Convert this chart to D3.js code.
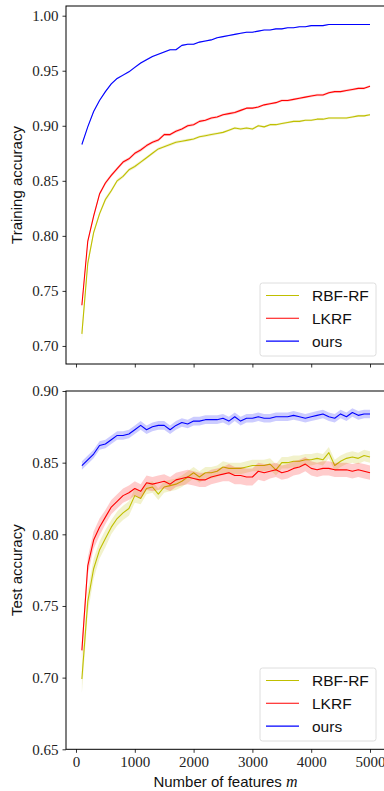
<!DOCTYPE html>
<html>
<head>
<meta charset="utf-8">
<script src="https://cdn.jsdelivr.net/npm/d3@7"></script>
<style>
  html, body { margin: 0; padding: 0; background: #fff; }
  svg { display: block; }
  .tick text { font-family: "Liberation Serif", "DejaVu Serif", serif; font-size: 15px; fill: #222; }
  .axis-label { font-family: "Liberation Sans", Arial, sans-serif; font-size: 15px; fill: #111; }
  .legend text { font-family: "Liberation Sans", Arial, sans-serif; font-size: 15.5px; fill: #111; }
</style>
</head>
<body>
<div id="chart"></div>
<script>
// ---- Data (number of features m = 100 .. 5000, step 100)
const features = [100,200,300,400,500,600,700,800,900,1000,1100,1200,1300,1400,1500,1600,1700,1800,1900,2000,
  2100,2200,2300,2400,2500,2600,2700,2800,2900,3000,3100,3200,3300,3400,3500,3600,3700,3800,3900,4000,
  4100,4200,4300,4400,4500,4600,4700,4800,4900,5000];

const seriesNames = ['RBF-RF', 'LKRF', 'ours'];

// Training accuracy (means)
const trainRbf = [0.711,0.775,0.803,0.820,0.833,0.841,0.850,0.854,0.860,0.863,0.867,0.871,0.875,0.879,0.881,0.883,0.885,0.886,0.887,0.888,
  0.890,0.891,0.892,0.893,0.894,0.896,0.898,0.897,0.898,0.897,0.900,0.899,0.901,0.901,0.902,0.903,0.904,0.904,0.905,0.905,
  0.906,0.906,0.907,0.907,0.907,0.907,0.908,0.909,0.909,0.910];
const trainLkrf = [0.737,0.795,0.818,0.838,0.848,0.855,0.861,0.867,0.870,0.875,0.878,0.882,0.885,0.887,0.892,0.892,0.895,0.897,0.900,0.901,
  0.904,0.905,0.907,0.908,0.910,0.911,0.912,0.914,0.916,0.916,0.917,0.919,0.920,0.921,0.923,0.923,0.924,0.925,0.926,0.927,
  0.928,0.928,0.930,0.931,0.931,0.932,0.933,0.934,0.934,0.936];
const trainOurs = [0.883,0.899,0.913,0.923,0.931,0.938,0.943,0.946,0.949,0.953,0.957,0.960,0.963,0.965,0.967,0.969,0.969,0.973,0.974,0.974,
  0.976,0.977,0.978,0.980,0.981,0.982,0.983,0.984,0.985,0.985,0.986,0.987,0.987,0.988,0.988,0.989,0.989,0.990,0.990,0.991,
  0.991,0.991,0.992,0.992,0.992,0.992,0.992,0.992,0.992,0.992];

// Training accuracy (std bands)
const trainStdRbf = [0.006,0.003,0.002,0.002,0.002,0.0018,0.0016,0.0015,0.0015,0.0015,0.0014,0.0014,0.0014,0.0013,0.0013,0.0013,0.0013,0.0012,0.0012,0.0012,
  0.0012,0.0012,0.0012,0.0012,0.0011,0.0011,0.0011,0.0011,0.0011,0.0011,0.0011,0.0011,0.0010,0.0010,0.0010,0.0010,0.0010,0.0010,0.0010,0.0010,
  0.0010,0.0010,0.0010,0.0010,0.0010,0.0010,0.0010,0.0010,0.0010,0.0010];
const trainStdLkrf = [0.003,0.002,0.002,0.0018,0.0017,0.0016,0.0016,0.0015,0.0015,0.0015,0.0015,0.0014,0.0014,0.0014,0.0014,0.0013,0.0013,0.0013,0.0013,0.0013,
  0.0012,0.0012,0.0012,0.0012,0.0012,0.0012,0.0012,0.0012,0.0011,0.0011,0.0011,0.0011,0.0011,0.0011,0.0011,0.0011,0.0011,0.0011,0.0011,0.0011,
  0.0011,0.0011,0.0011,0.0011,0.0011,0.0011,0.0011,0.0011,0.0011,0.0011];
const trainStdOurs = [0.001,0.001,0.0009,0.0009,0.0009,0.0008,0.0008,0.0008,0.0008,0.0008,0.0008,0.0008,0.0007,0.0007,0.0007,0.0007,0.0007,0.0007,0.0007,0.0007,
  0.0006,0.0006,0.0006,0.0006,0.0006,0.0006,0.0006,0.0006,0.0006,0.0006,0.0005,0.0005,0.0005,0.0005,0.0005,0.0005,0.0005,0.0005,0.0005,0.0005,
  0.0005,0.0005,0.0005,0.0005,0.0005,0.0005,0.0005,0.0005,0.0005,0.0005];

// Test accuracy (means)
const testRbf = [0.699,0.753,0.776,0.789,0.797,0.805,0.811,0.815,0.818,0.827,0.825,0.832,0.833,0.828,0.833,0.834,0.835,0.837,0.840,0.843,
  0.840,0.843,0.843,0.844,0.847,0.846,0.846,0.846,0.847,0.848,0.848,0.848,0.849,0.845,0.850,0.850,0.851,0.851,0.852,0.852,
  0.853,0.852,0.857,0.848,0.851,0.853,0.854,0.853,0.855,0.854];
const testLkrf = [0.719,0.778,0.796,0.805,0.812,0.819,0.823,0.827,0.829,0.832,0.830,0.836,0.835,0.836,0.837,0.835,0.838,0.839,0.840,0.839,
  0.838,0.838,0.840,0.841,0.842,0.843,0.841,0.841,0.840,0.840,0.844,0.843,0.844,0.845,0.843,0.844,0.846,0.847,0.849,0.846,
  0.845,0.846,0.846,0.845,0.845,0.845,0.844,0.845,0.844,0.843];
const testOurs = [0.848,0.852,0.856,0.862,0.863,0.866,0.869,0.869,0.870,0.873,0.876,0.873,0.875,0.876,0.876,0.873,0.876,0.878,0.877,0.879,
  0.879,0.880,0.880,0.880,0.881,0.879,0.882,0.879,0.881,0.881,0.882,0.881,0.881,0.882,0.882,0.882,0.883,0.882,0.881,0.882,
  0.883,0.884,0.882,0.881,0.884,0.882,0.885,0.883,0.884,0.884];

// Test accuracy (std bands)
const testStdRbf = [0.010,0.008,0.007,0.006,0.006,0.005,0.005,0.005,0.005,0.005,0.004,0.004,0.004,0.004,0.004,0.004,0.004,0.004,0.004,0.004,
  0.004,0.004,0.004,0.004,0.004,0.004,0.004,0.004,0.004,0.004,0.004,0.004,0.004,0.004,0.004,0.004,0.004,0.004,0.004,0.004,
  0.004,0.004,0.004,0.004,0.004,0.004,0.004,0.004,0.004,0.004];
const testStdLkrf = [0.006,0.006,0.006,0.006,0.005,0.005,0.005,0.005,0.005,0.005,0.005,0.005,0.005,0.005,0.005,0.005,0.005,0.005,0.005,0.005,
  0.005,0.005,0.005,0.005,0.005,0.006,0.006,0.006,0.006,0.006,0.006,0.006,0.005,0.005,0.005,0.005,0.005,0.005,0.005,0.005,
  0.005,0.005,0.005,0.005,0.005,0.005,0.005,0.005,0.005,0.005];
const testStdOurs = [0.003,0.003,0.003,0.003,0.003,0.003,0.003,0.003,0.003,0.003,0.003,0.003,0.003,0.003,0.003,0.003,0.003,0.003,0.003,0.003,
  0.003,0.003,0.003,0.003,0.003,0.003,0.003,0.003,0.003,0.003,0.003,0.003,0.003,0.003,0.003,0.003,0.003,0.003,0.003,0.003,
  0.003,0.003,0.003,0.003,0.003,0.003,0.003,0.003,0.003,0.003];

const xTicks = [0, 1000, 2000, 3000, 4000, 5000];
const trainTicks = [0.70, 0.75, 0.80, 0.85, 0.90, 0.95, 1.00];
const testTicks = [0.65, 0.70, 0.75, 0.80, 0.85, 0.90];

const colors = ['#bfbf00', '#ff0000', '#0000ff'];

// ---- Layout
const W = 384, H = 791;
const left = 66, right = 385;

const svg = d3.select('#chart').append('svg')
  .attr('width', W).attr('height', H);

const x = d3.scaleLinear().domain([-170, 5255]).range([left, right]);

const panels = [
  {
    id: 'train', top: 6, bottom: 364, domain: [0.6836, 1.0088], ticks: trainTicks,
    label: 'Training accuracy', means: [trainRbf, trainLkrf, trainOurs],
    stds: [trainStdRbf, trainStdLkrf, trainStdOurs], showX: false, legendTop: 283
  },
  {
    id: 'test', top: 391, bottom: 749.3, domain: [0.65, 0.90], ticks: testTicks,
    label: 'Test accuracy', means: [testRbf, testLkrf, testOurs],
    stds: [testStdRbf, testStdLkrf, testStdOurs], showX: true, legendTop: 668
  }
];

panels.forEach(p => {
  const y = d3.scaleLinear().domain(p.domain).range([p.bottom, p.top]);
  const g = svg.append('g').attr('id', p.id);

  // ---- Clip
  g.append('clipPath').attr('id', 'clip-' + p.id)
    .append('rect').attr('x', left).attr('y', p.top)
    .attr('width', right - left).attr('height', p.bottom - p.top);

  const marks = g.append('g').attr('clip-path', `url(#clip-${p.id})`);

  p.means.forEach((m, i) => {
    const rows = features.map((f, k) => ({ f, v: m[k], s: p.stds[i][k] }));
    marks.append('path')
      .datum(rows)
      .attr('fill', colors[i]).attr('fill-opacity', 0.2).attr('stroke', 'none')
      .attr('d', d3.area().x(d => x(d.f)).y0(d => y(d.v - d.s)).y1(d => y(d.v + d.s)));
    marks.append('path')
      .datum(rows)
      .attr('fill', 'none').attr('stroke', colors[i]).attr('stroke-width', 1.1)
      .attr('stroke-linejoin', 'round')
      .attr('d', d3.line().x(d => x(d.f)).y(d => y(d.v)));
  });

  // ---- Axes
  const xAxis = g.append('g')
    .attr('transform', `translate(0,${p.bottom})`)
    .call(d3.axisBottom(x).tickValues(xTicks).tickSize(3.5).tickPadding(3.5)
      .tickFormat(p.showX ? d3.format('d') : () => ''));
  xAxis.select('.domain').remove();

  const yAxis = g.append('g')
    .attr('transform', `translate(${left},0)`)
    .call(d3.axisLeft(y).tickValues(p.ticks).tickSize(3.5).tickPadding(4).tickFormat(d3.format('.2f')));
  yAxis.select('.domain').remove();

  g.selectAll('.tick line').attr('stroke', '#000').attr('stroke-width', 0.8);

  // ---- Frame
  g.append('rect')
    .attr('x', left).attr('y', p.top)
    .attr('width', right - left).attr('height', p.bottom - p.top)
    .attr('fill', 'none').attr('stroke', '#000').attr('stroke-width', 1);

  // ---- Y label
  g.append('text')
    .attr('class', 'axis-label')
    .attr('text-anchor', 'middle')
    .attr('transform', `translate(22,${(p.top + p.bottom) / 2}) rotate(-90)`)
    .text(p.label);

  // ---- Legend
  const lg = g.append('g').attr('class', 'legend');
  lg.append('rect')
    .attr('x', 260).attr('y', p.legendTop).attr('width', 116).attr('height', 73)
    .attr('rx', 2.5).attr('fill', '#fff').attr('fill-opacity', 0.8)
    .attr('stroke', '#d6d6d6').attr('stroke-width', 0.8);
  seriesNames.forEach((name, i) => {
    const ry = p.legendTop + 12.5 + i * 22.8;
    lg.append('line')
      .attr('x1', 266).attr('x2', 299).attr('y1', ry).attr('y2', ry)
      .attr('stroke', colors[i]).attr('stroke-width', 1.1);
    lg.append('text')
      .attr('x', 312).attr('y', ry).attr('dy', '0.36em')
      .text(name);
  });
});

// ---- X label
const xl = svg.append('text')
  .attr('class', 'axis-label')
  .attr('x', (left + right) / 2).attr('y', 787)
  .attr('text-anchor', 'middle');
xl.append('tspan').text('Number of features ');
xl.append('tspan')
  .style('font-family', '"Liberation Serif", "DejaVu Serif", serif')
  .style('font-style', 'italic').style('font-size', '16px')
  .text('m');
</script>
</body>
</html>
